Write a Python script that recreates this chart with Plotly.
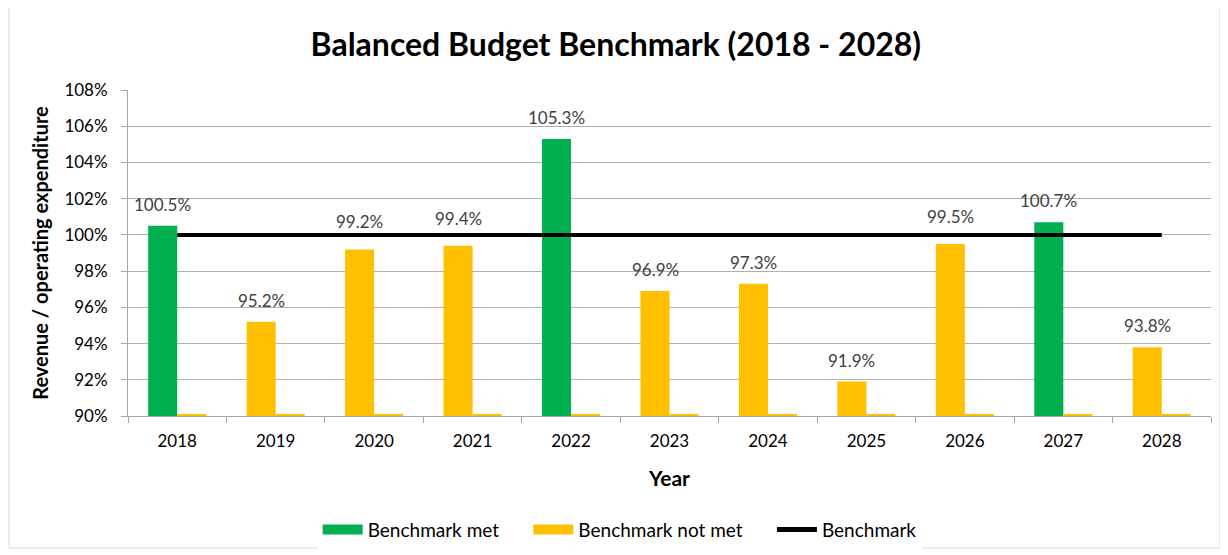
import plotly.graph_objects as go

# Chart data
years = ["2018", "2019", "2020", "2021", "2022", "2023", "2024", "2025", "2026", "2027", "2028"]
ratio = [100.5, 95.2, 99.2, 99.4, 105.3, 96.9, 97.3, 91.9, 99.5, 100.7, 93.8]
benchmark = [100, 100, 100, 100, 100, 100, 100, 100, 100, 100, 100]
empty_series = [0.1, 0.1, 0.1, 0.1, 0.1, 0.1, 0.1, 0.1, 0.1, 0.1, 0.1]

GREEN = "#00B050"
YELLOW = "#FFC000"
FONT = "Lato"
GAP = "\u00a0" * 5  # spacing between legend entries

met = [v if v >= 100 else None for v in ratio]
not_met = [v if v < 100 else None for v in ratio]

fig = go.Figure()

fig.add_trace(go.Bar(
    x=years, y=met, name="Benchmark met", offsetgroup="a", showlegend=False,
    marker=dict(color=GREEN, line=dict(width=0))))

fig.add_trace(go.Bar(
    x=years, y=not_met, name="Benchmark not met", offsetgroup="a", showlegend=False,
    marker=dict(color=YELLOW, line=dict(width=0))))

# empty second slot of each group (thin line on the axis)
fig.add_trace(go.Bar(
    x=years, y=empty_series, base=90, offsetgroup="b", showlegend=False,
    marker=dict(color=YELLOW, line=dict(width=0)), hoverinfo="skip"))

fig.add_trace(go.Scatter(
    x=years, y=benchmark, name="Benchmark", mode="lines", showlegend=False,
    line=dict(color="black", width=4)))

# legend entries (wide swatches like the original)
for name, color, width in [("Benchmark met" + GAP, GREEN, 10),
                           ("Benchmark not met" + GAP, YELLOW, 10),
                           ("Benchmark", "black", 5)]:
    fig.add_trace(go.Scatter(x=[years[0]], y=[None], mode="lines", name=name,
                             line=dict(color=color, width=width), hoverinfo="skip"))

# value labels above the left bar of each group, above the benchmark line
for i, v in enumerate(ratio):
    fig.add_annotation(
        x=i, y=v, text=f"{v:.1f}%", showarrow=False,
        xanchor="center", yanchor="bottom", xshift=-14.5,
        yshift=15 if 99 <= v < 100 else 9,
        font=dict(size=17, color="#404040", family=FONT))

# page body has an 8px margin, so everything is laid out 8px up/left
fig.update_layout(
    width=1228, height=555,
    margin=dict(l=120, r=25, t=82, b=147),
    paper_bgcolor="white", plot_bgcolor="white",
    font=dict(family=FONT, color="black", size=16),
    title=dict(text="<b>Balanced Budget Benchmark (2018 - 2028)</b>",
               x=0.495, xanchor="center", y=0.933, yanchor="middle",
               font=dict(size=32, family=FONT, color="black")),
    barmode="group", bargap=0.41, bargroupgap=0,
    legend=dict(orientation="h", x=0.454, xanchor="center",
                y=-0.29, yanchor="top",
                font=dict(size=19, family=FONT), traceorder="normal",
                itemwidth=40),
    showlegend=True,
)

fig.update_xaxes(
    type="category", categoryorder="array", categoryarray=years,
    range=[-0.5, len(years) - 0.5],
    tickson="boundaries", ticks="outside", ticklen=6,
    ticklabelstandoff=10, automargin=False, tickangle=0,
    tickcolor="#A6A6A6", showline=True, linecolor="#A6A6A6", linewidth=1,
    tickfont=dict(size=17, color="black"),
    title=dict(text="<b>Year</b>", font=dict(size=21), standoff=20))

fig.update_yaxes(
    range=[90, 108], dtick=2, ticksuffix="%", ticks="outside", ticklen=6,
    ticklabelstandoff=10, automargin=False,
    tickcolor="#A6A6A6", showline=True, linecolor="#A6A6A6", linewidth=1,
    showgrid=True, gridcolor="#B0B0B0", gridwidth=1, zeroline=False,
    tickfont=dict(size=17, color="black"),
    title=dict(text="<b>Revenue / operating expenditure</b>", font=dict(size=20),
               standoff=10))

# outer chart border
fig.add_shape(type="rect", xref="paper", yref="paper",
              x0=-119 / 1083, x1=(1212 - 120) / 1083,
              y0=(408 - 540) / 326, y1=(408 + 7) / 326,
              line=dict(color="#D9D9D9", width=1), layer="below")

fig.write_html("out.html")
